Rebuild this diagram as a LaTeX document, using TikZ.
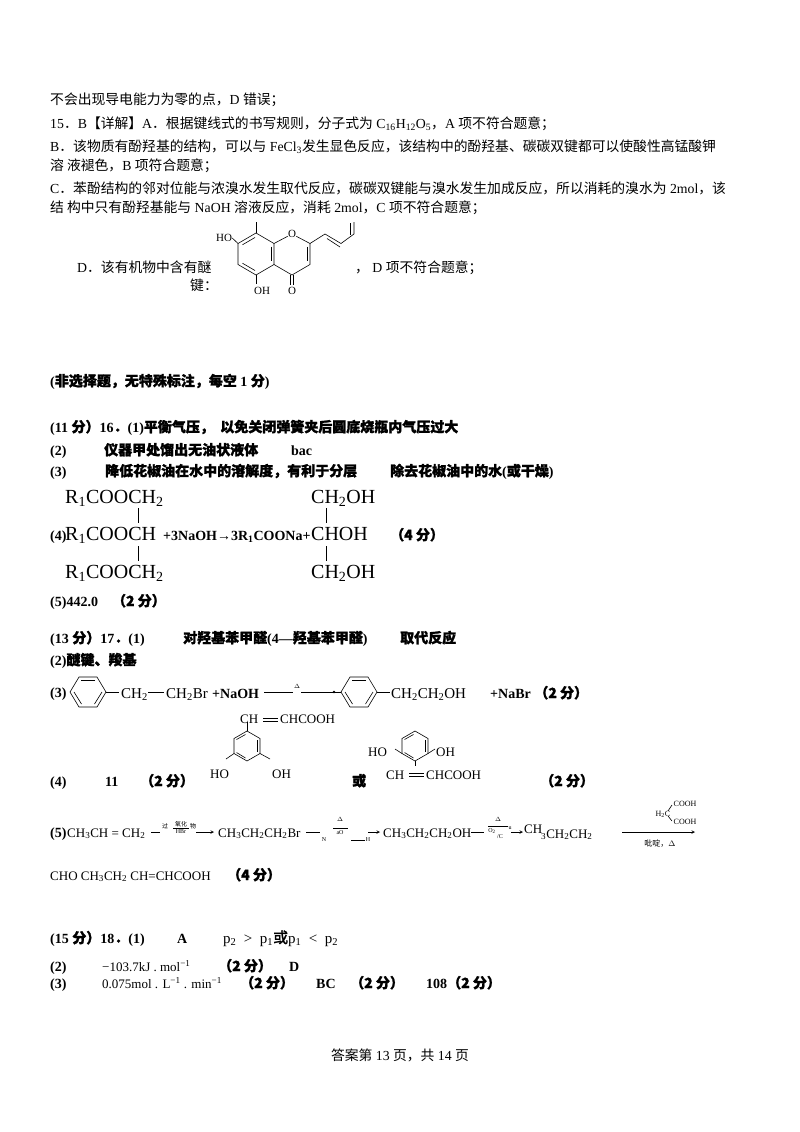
\documentclass[tikz,border=0pt]{standalone}
\usepackage{fontspec}
\usetikzlibrary{calc}
\setmainfont{Liberation Serif}
\newfontfamily\cjk{Noto Sans CJK SC}
\newfontfamily\cjkb{Noto Sans CJK SC}[FakeBold=1.5]
\newcommand{\C}[1]{{\cjk #1}}
\newcommand{\Bc}[1]{{\cjkb #1}}
\newcommand{\s}[1]{\textsubscript{#1}}
\newcommand{\su}[1]{\textsuperscript{#1}}
\begin{document}
\begin{tikzpicture}[x=1pt,y=-1pt,
  t/.style={anchor=base west,inner sep=0pt,font=\fontsize{13.8}{15}\selectfont},
  tb/.style={t,font=\fontsize{14}{15}\selectfont\bfseries},
  big/.style={anchor=base west,inner sep=0pt,font=\fontsize{20}{22}\selectfont},
  sm/.style={anchor=base west,inner sep=0pt,font=\fontsize{13}{14}\selectfont},
  md/.style={anchor=base west,inner sep=0pt,font=\fontsize{15}{16}\selectfont},
  tiny/.style={inner sep=0pt,font=\fontsize{6}{7}\selectfont},
  fl/.style={sm,anchor=center,font=\fontsize{11}{12}\selectfont},
  bond/.style={line width=0.6pt}]
\useasboundingbox (0,0) rectangle (800,1132);
\fill[white] (0,0) rectangle (800,1132);
% ---- top text
\node[t] (l1) at (50,104) {\C{不会出现导电能力为零的点，}D \C{错误；}};
\node[t] (l2) at (50,128) {15\C{．}B\C{【详解】}A\C{．根据键线式的书写规则，分子式为} C\s{16}H\s{12}O\s{5}\C{，}A \C{项不符合题意；}};
\node[t] (l3) at (50,151) {B\C{．该物质有酚羟基的结构，可以与} FeCl\s{3}\C{发生显色反应，该结构中的酚羟基、碳碳双键都可以使酸性高锰酸钾}};
\node[t] (l4) at (50,170) {\C{溶\ 液褪色，}B \C{项符合题意；}};
\node[t] (l5) at (50,193) {C\C{．苯酚结构的邻对位能与浓溴水发生取代反应，碳碳双键能与溴水发生加成反应，所以消耗的溴水为} 2mol\C{，该}};
\node[t] (l6) at (50,212) {\C{结\ 构中只有酚羟基能与} NaOH \C{溶液反应，消耗} 2mol\C{，}C \C{项不符合题意；}};
\node[t] (l7) at (77,272) {D\C{．该有机物中含有醚}};
\node[t] (l8) at (190,290) {\C{键：}};
\node[t] (l9) at (355,272) {\C{，} D \C{项不符合题意；}};
% flavonoid
\begin{scope}[bond]
\coordinate (a1) at (256,233); \coordinate (a2) at (274,243.5); \coordinate (a3) at (274,264.5);
\coordinate (a4) at (256,275); \coordinate (a5) at (238,264.5); \coordinate (a6) at (238,243.5);
\coordinate (c2) at (310,243.5); \coordinate (c3) at (310,264.5); \coordinate (c4) at (292,275);
\node[fl] (oring) at (292,234) {O};
\draw (a1)--(a2)--(a3)--(a4)--(a5)--(a6)--cycle;
\draw ($(a6)!0.15!(a1)+(1.7,2.9)$) -- ($(a6)!0.85!(a1)+(1.7,2.9)$);
\draw ($(a4)!0.15!(a5)+(1.7,-2.9)$) -- ($(a4)!0.85!(a5)+(1.7,-2.9)$);
\draw ($(a2)!0.15!(a3)+(-3,0)$) -- ($(a2)!0.85!(a3)+(-3,0)$);
\draw (a2)--(oring)--(c2)--(c3)--(c4)--(a3);
\draw ($(c2)!0.15!(c3)+(-3,0)$) -- ($(c2)!0.85!(c3)+(-3,0)$);
\draw (a1)--(256,222);
\node[fl] (ho1) at (224,238) {HO};
\draw (a6)--(ho1.east);
\node[fl] (oh1) at (262,291) {OH};
\draw (a4)--(256,284);
\node[fl] (o4) at (292,291) {O};
\draw (290.5,275)--(290.5,285); \draw (293.5,275)--(293.5,285);
\draw (c2)--(325,234)--(341,243.5)--(354,234)--(354,222);
\draw (327,238.5)--(340,247); \draw (350,235)--(350,223);
\end{scope}
% ---- 16
\node[tb] (h0) at (50,386) {(\Bc{非选择题，无特殊标注，每空} 1 \Bc{分})};
\node[tb] (h1) at (50,432) {(11 \Bc{分）}16\Bc{．}(1)\Bc{平衡气压，\ \ 以免关闭弹簧夹后圆底烧瓶内气压过大}};
\node[tb] (h2) at (50,455) {(2)};
\node[tb] (h2b) at (104,455) {\Bc{仪器甲处馏出无油状液体}};
\node[tb] (h2c) at (291,455) {bac};
\node[tb] (h3) at (50,476) {(3)};
\node[tb] (h3b) at (105,476) {\Bc{降低花椒油在水中的溶解度，有利于分层}};
\node[tb] (h3c) at (390,476) {\Bc{除去花椒油中的水}(\Bc{或干燥})};
\node[big] (r1) at (65,503) {R\s{1}COOCH\s{2}};
\node[big] (r2) at (65,540) {R\s{1}COOCH};
\node[big] (r3) at (65,578) {R\s{1}COOCH\s{2}};
\draw[bond] (138,508)--(138,523); \draw[bond] (138,546)--(138,561);
\node[tb] (h4) at (50,540) {(4)};
\node[tb] (h4b) at (163,540) {+3NaOH\textrightarrow3R\s{1}COONa+};
\node[big] (g1) at (311,503) {CH\s{2}OH};
\node[big] (g2) at (311,540) {CHOH};
\node[big] (g3) at (311,578) {CH\s{2}OH};
\draw[bond] (326,508)--(326,523); \draw[bond] (326,546)--(326,561);
\node[tb] (h4c) at (390,540) {\Bc{（4 分）}};
\node[tb] (h5) at (50,606) {(5)442.0\ \ \ \ \Bc{（2 分）}};
% ---- 17
\node[tb] (k1) at (50,643) {(13 \Bc{分）}17\Bc{．}(1)};
\node[tb] (k1b) at (183,643) {\Bc{对羟基苯甲醛}(4\textemdash\Bc{羟基苯甲醛})};
\node[tb] (k1c) at (400,643) {\Bc{取代反应}};
\node[tb] (k2) at (50,665) {(2)\Bc{醚键、羧基}};
\node[tb] (k3) at (50,697) {(3)};
\begin{scope}[bond]
\draw (106,692)--(97,677)--(79,677)--(70,692)--(79,707)--(97,707)--cycle;
\draw (95,680.5)--(81,680.5); \draw (74,692)--(81.5,704); \draw (102,692)--(94.5,704);
\draw (106,692)--(119,692);
\draw (377,692)--(368,677)--(350,677)--(341,692)--(350,707)--(368,707)--cycle;
\draw (366,680.5)--(352,680.5); \draw (345,692)--(352.5,704); \draw (373,692)--(365.5,704);
\draw (377,692)--(390,692);
\draw (148,692)--(164,692);
\draw (264,692)--(293,692); \draw (301,692)--(341,692);
\fill (334,692) circle (1.3);
\end{scope}
\node[md] (k3a) at (121,698) {CH\s{2}};
\node[md] (k3b) at (166,698) {CH\s{2}Br};
\node[tb] (k3c) at (212,698) {+NaOH};
\node[tiny] (k3d) at (297,686) {$\Delta$};
\node[md] (k3e) at (391,698) {CH\s{2}CH\s{2}OH};
\node[tb] (k3f) at (490,698) {+NaBr \Bc{（2 分）}};
\node[tb] (k4) at (50,786) {(4)};
\node[tb] (k4b) at (105,786) {11};
\node[tb] (k4c) at (140,786) {\Bc{（2 分）}};
\begin{scope}[bond]
\draw (247,731)--(260,738.5)--(260,753.5)--(247,761)--(234,753.5)--(234,738.5)--cycle;
\draw (257,740)--(257,752); \draw (245.5,758)--(236.5,752.5); \draw (236.5,739.5)--(245.5,734.5);
\draw (247,731)--(247,722);
\draw (234,753.5)--(226,759); \draw (260,753.5)--(270,759);
\draw (415,731)--(428,738.5)--(428,753.5)--(415,761)--(402,753.5)--(402,738.5)--cycle;
\draw (425,740)--(425,752); \draw (404.5,739.5)--(413.5,734.5); \draw (413.5,758)--(404.5,752.5);
\draw (415,761)--(415,766);
\draw (402,753.5)--(395,749); \draw (428,753.5)--(435,749);
\end{scope}
\node[sm] (s1) at (240,723) {CH};
\draw[bond] (263,718)--(278,718); \draw[bond] (263,721)--(278,721);
\node[sm] (s1b) at (280,723) {CHCOOH};
\node[sm] (s1c) at (210,778) {HO};
\node[sm] (s1d) at (272,778) {OH};
\node[tb] (k4d) at (352,786) {\Bc{或}};
\node[sm] (s2a) at (368,756) {HO};
\node[sm] (s2b) at (436,756) {OH};
\node[sm] (s2c) at (386,779) {CH};
\draw[bond] (409,773)--(424,773); \draw[bond] (409,776)--(424,776);
\node[sm] (s2d) at (426,779) {CHCOOH};
\node[tb] (k4e) at (540,786) {\Bc{（2 分）}};
% (5)
\node[tb] (k5) at (50,837) {(5)};
\node[sm] (k5a) at (67,837) {CH\s{3}CH = CH\s{2}};
\draw[bond] (151,832)--(160,832);
\node[tiny] (p1) at (165,826) {\C{过}};
\node[tiny] (p2) at (181,824) {\C{氧化}};
\draw[bond] (173,828)--(189,828);
\node[tiny] (p3) at (181,832) {HBr};
\node[tiny] (p4) at (193,826) {\C{物}};
\draw[bond,-stealth] (196,832)--(214,832);
\node[sm] (k5b) at (218,837) {CH\s{3}CH\s{2}CH\s{2}Br};
\draw[bond] (306,832)--(320,832);
\node[tiny] (p5) at (324,840) {N};
\node[tiny] (p6) at (340,819) {$\Delta$};
\draw[bond] (333,828)--(348,828);
\node[tiny] (p7) at (340,833) {aO};
\draw[bond] (351,840)--(365,840);
\node[tiny] (p8) at (368,840) {H};
\draw[bond,-stealth] (368,832)--(380,832);
\node[sm] (k5c) at (383,837) {CH\s{3}CH\s{2}CH\s{2}OH};
\draw[bond] (471,832)--(484,832);
\node[tiny] (p9) at (498,819) {$\Delta$};
\draw[bond] (488,826)--(508,826);
\node[tiny] (p10) at (492,831) {O\s{2}};
\node[tiny] (p11) at (500,837) {/C};
\node[tiny] (p12) at (510,828) {u};
\draw[bond,-stealth] (511,832)--(523,832);
\node[sm] (k5d) at (524,833) {CH};
\node[sm] (k5e) at (541,838) {\s{3}CH\s{2}CH\s{2}};
\node[tiny,font=\fontsize{8}{9}\selectfont] (m1) at (663,814) {H\s{2}C};
\node[tiny,font=\fontsize{8}{9}\selectfont] (m2) at (685,804) {COOH};
\node[tiny,font=\fontsize{8}{9}\selectfont] (m3) at (685,822) {COOH};
\draw[bond] (668,811)--(672,805); \draw[bond] (668,816)--(672,821);
\draw[bond,-stealth] (622,832)--(695,832);
\node[tiny,font=\fontsize{8}{9}\selectfont] (m4) at (660,844) {\C{吡啶，}$\Delta$};
\node[sm] (k6) at (50,880) {CHO CH\s{3}CH\s{2} CH=CHCOOH};
\node[tb] (k6b) at (227,880) {\Bc{（4 分）}};
% ---- 18
\node[tb] (q1) at (50,943) {(15 \Bc{分）}18\Bc{．}(1)};
\node[tb] (q1b) at (177,943) {A};
\node[md] (q1c) at (223,943) {p\s{2} \ \textgreater\ \ p\s{1}\Bc{或}p\s{1} \ \textless\ \ p\s{2}};
\node[tb] (q2) at (50,971) {(2)};
\node[sm] (q2b) at (102,971) {\textminus103.7kJ . mol\su{\textminus1}};
\node[tb] (q2c) at (218,971) {\Bc{（2 分）}};
\node[tb] (q2d) at (289,971) {D};
\node[tb] (q3) at (50,988) {(3)};
\node[sm] (q3b) at (102,988) {0.075mol . L\su{\textminus1} . min\su{\textminus1}};
\node[tb] (q3c) at (240,988) {\Bc{（2 分）}};
\node[tb] (q3d) at (316,988) {BC};
\node[tb] (q3e) at (350,988) {\Bc{（2 分）}};
\node[tb] (q3f) at (426,988) {108\Bc{（2 分）}};
\node[t,anchor=base] (foot) at (400,1060) {\C{答案第} 13 \C{页，共} 14 \C{页}};
\end{tikzpicture}
\end{document}
